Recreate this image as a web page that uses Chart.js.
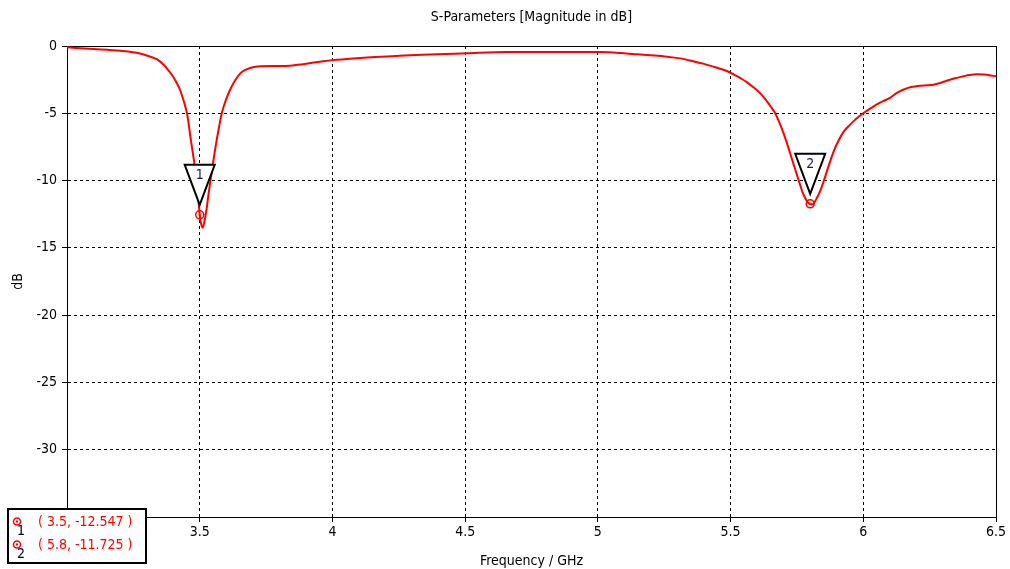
<!DOCTYPE html>
<html>
<head>
<meta charset="utf-8">
<script src="https://cdn.jsdelivr.net/npm/chart.js@4.4.0/dist/chart.umd.min.js"></script>
<style>
  html, body { margin: 0; padding: 0; background: #fff; }
  canvas { display: block; }
</style>
</head>
<body>
<canvas id="sparamChart" width="1010" height="569"></canvas>
<script>
// S11 curve
const freqGHz = [3.00, 3.10, 3.20, 3.275, 3.313, 3.34, 3.363, 3.38, 3.40, 3.415, 3.426, 3.436, 3.445, 3.452, 3.457, 3.466, 3.476,
  3.486, 3.494, 3.500, 3.505, 3.511, 3.516, 3.521, 3.526, 3.532, 3.539, 3.551, 3.564, 3.573, 3.583, 3.597, 3.614, 3.632, 3.652,
  3.67, 3.69, 3.71, 3.727, 3.79, 3.84, 3.87, 3.92, 3.953, 4.00, 4.078, 4.255, 4.506, 4.657, 5.008, 5.13, 5.26, 5.31, 5.36,
  5.40, 5.435, 5.47, 5.498, 5.52, 5.54, 5.561, 5.585, 5.611, 5.627, 5.642, 5.655, 5.668, 5.684, 5.699, 5.712, 5.724, 5.74,
  5.756, 5.77, 5.781, 5.79, 5.80, 5.807, 5.815, 5.825, 5.837, 5.85, 5.868, 5.887, 5.905, 5.925, 5.945, 5.963, 5.98, 6.00,
  6.03, 6.063, 6.08, 6.10, 6.125, 6.15, 6.18, 6.214, 6.24, 6.264, 6.29, 6.314, 6.345, 6.377, 6.40, 6.427, 6.455, 6.49, 6.50];
const s11dB = [-0.10, -0.22, -0.35, -0.55, -0.79, -1.0, -1.38, -1.75, -2.28, -2.8, -3.27, -3.85, -4.45, -5.0, -5.6, -6.9, -8.2,
  -9.6, -11.2, -12.55, -13.2, -13.5, -13.2, -12.7, -12.1, -11.2, -10.2, -8.6, -6.98, -6.0, -5.0, -4.1, -3.27, -2.6, -2.05,
  -1.8, -1.64, -1.54, -1.5, -1.49, -1.47, -1.40, -1.26, -1.17, -1.05, -0.92, -0.72, -0.54, -0.45, -0.45, -0.59, -0.79, -0.92, -1.14,
  -1.33, -1.53, -1.75, -1.97, -2.2, -2.42, -2.68, -3.05, -3.5, -3.85, -4.25, -4.6, -5.0, -5.7, -6.45, -7.2, -7.95, -8.95,
  -9.95, -10.8, -11.3, -11.6, -11.73, -11.78, -11.65, -11.3, -10.8, -10.1, -9.0, -7.9, -7.1, -6.4, -5.95, -5.6, -5.3, -5.0,
  -4.6, -4.2, -4.05, -3.85, -3.5, -3.25, -3.05, -2.95, -2.92, -2.88, -2.75, -2.58, -2.4, -2.25, -2.15, -2.1, -2.12, -2.22, -2.25];

// markers
const markerFreq = [3.5, 5.8];
const markerDb = [-12.547, -11.725];

// tick labels
const xTicks = [3, 3.5, 4, 4.5, 5, 5.5, 6, 6.5];
const yTicks = [0, -5, -10, -15, -20, -25, -30, -35];

const FONT = "'DejaVu Sans Condensed', 'DejaVu Sans', sans-serif";
Chart.defaults.font.family = FONT;
Chart.defaults.font.size = 14;
Chart.defaults.color = '#000';

const decorPlugin = {
    id: 'decor',
    beforeDatasetsDraw(chart) {
        // plot frame
        const ctx = chart.ctx, a = chart.chartArea;
        ctx.save();
        ctx.strokeStyle = '#000';
        ctx.lineWidth = 1;
        ctx.setLineDash([]);
        ctx.strokeRect(Math.round(a.left) + 0.5, Math.round(a.top) + 0.5, Math.round(a.right - a.left), Math.round(a.bottom - a.top));
        ctx.restore();
    },
    afterDatasetsDraw(chart) {
        const ctx = chart.ctx;
        const xs = chart.scales.x, ys = chart.scales.y;
        ctx.save();
        markerFreq.forEach(function(f, i) {
            const px = xs.getPixelForValue(f);
            const py = ys.getPixelForValue(markerDb[i]);
            // marker ring
            ctx.strokeStyle = '#ff0000';
            ctx.fillStyle = '#ff0000';
            ctx.lineWidth = 1.5;
            ctx.beginPath();
            ctx.arc(px, py, 4, 0, Math.PI * 2);
            ctx.stroke();
            ctx.fillRect(px - 1, py - 1, 2, 2);
            // triangle flag
            const apexY = py - 10, topY = apexY - 40;
            ctx.beginPath();
            ctx.moveTo(px - 15, topY);
            ctx.lineTo(px + 15, topY);
            ctx.lineTo(px, apexY);
            ctx.closePath();
            ctx.fillStyle = '#fff';
            ctx.fill();
            ctx.strokeStyle = '#000';
            ctx.lineWidth = 2;
            ctx.stroke();
            ctx.fillStyle = '#1a1a40';
            ctx.font = '14px ' + FONT;
            ctx.textAlign = 'center';
            ctx.textBaseline = 'middle';
            ctx.fillText(String(i + 1), px, topY + 11);
        });
        ctx.restore();
    },
    afterDraw(chart) {
        const ctx = chart.ctx, a = chart.chartArea;
        const cx = (a.left + a.right) / 2;
        ctx.save();
        ctx.fillStyle = '#000';
        ctx.font = '14px ' + FONT;
        ctx.textAlign = 'center';
        ctx.textBaseline = 'middle';
        ctx.fillText('S-Parameters [Magnitude in dB]', cx, 17);
        ctx.fillText('Frequency / GHz', cx, 561);
        ctx.save();
        ctx.translate(18, (a.top + a.bottom) / 2);
        ctx.rotate(-Math.PI / 2);
        ctx.fillText('dB', 0, 0);
        ctx.restore();

        // marker readout box
        ctx.fillStyle = '#fff';
        ctx.fillRect(8, 509, 138, 54);
        ctx.strokeStyle = '#000';
        ctx.lineWidth = 2;
        ctx.strokeRect(8, 509, 138, 54);
        markerFreq.forEach(function(f, i) {
            const rowY = 522.5 + i * 23;
            ctx.strokeStyle = '#ff0000';
            ctx.fillStyle = '#ff0000';
            ctx.lineWidth = 1.5;
            ctx.beginPath();
            ctx.arc(17, rowY - 1, 3.5, 0, Math.PI * 2);
            ctx.stroke();
            ctx.fillRect(16, rowY - 2, 2, 2);
            ctx.textAlign = 'left';
            ctx.fillText('( ' + f + ', ' + markerDb[i] + ' )', 38, rowY);
            ctx.fillStyle = '#000';
            ctx.fillText(String(i + 1), 17, rowY + 9);
        });
        ctx.restore();
    }
};

new Chart(document.getElementById('sparamChart').getContext('2d'), {
    type: 'line',
    data: {
        datasets: [{
            label: 'S1,1',
            data: freqGHz.map(function(f, i) { return { x: f, y: s11dB[i] }; }),
            borderColor: '#ff0000',
            borderWidth: 2,
            pointRadius: 0,
            cubicInterpolationMode: 'monotone',
            fill: false
        }]
    },
    options: {
        responsive: false,
        animation: false,
        layout: {
            padding: { top: 46, right: 14, left: 0, bottom: 0 }
        },
        scales: {
            x: {
                type: 'linear',
                min: 3,
                max: 6.5,
                afterBuildTicks: function(s) { s.ticks = xTicks.map(function(v) { return { value: v }; }); },
                afterFit: function(s) { s.height = 52; },
                grid: { color: '#000', lineWidth: 1, tickLength: 5, tickColor: '#000', tickBorderDash: [] },
                border: { display: true, color: '#000', width: 1, dash: [3, 3] },
                ticks: { padding: 2, maxRotation: 0, autoSkip: false, color: '#000', callback: function(v) { return String(v); } }
            },
            y: {
                min: -35,
                max: 0,
                afterBuildTicks: function(s) { s.ticks = yTicks.map(function(v) { return { value: v }; }); },
                afterFit: function(s) { s.width = 67; },
                grid: { color: '#000', lineWidth: 1, tickLength: 5, tickColor: '#000', tickBorderDash: [] },
                border: { display: true, color: '#000', width: 1, dash: [3, 3] },
                ticks: { padding: 5, autoSkip: false, color: '#000', callback: function(v) { return String(v); } }
            }
        },
        plugins: {
            legend: { display: false },
            tooltip: { enabled: false }
        }
    },
    plugins: [decorPlugin]
});
</script>
</body>
</html>
